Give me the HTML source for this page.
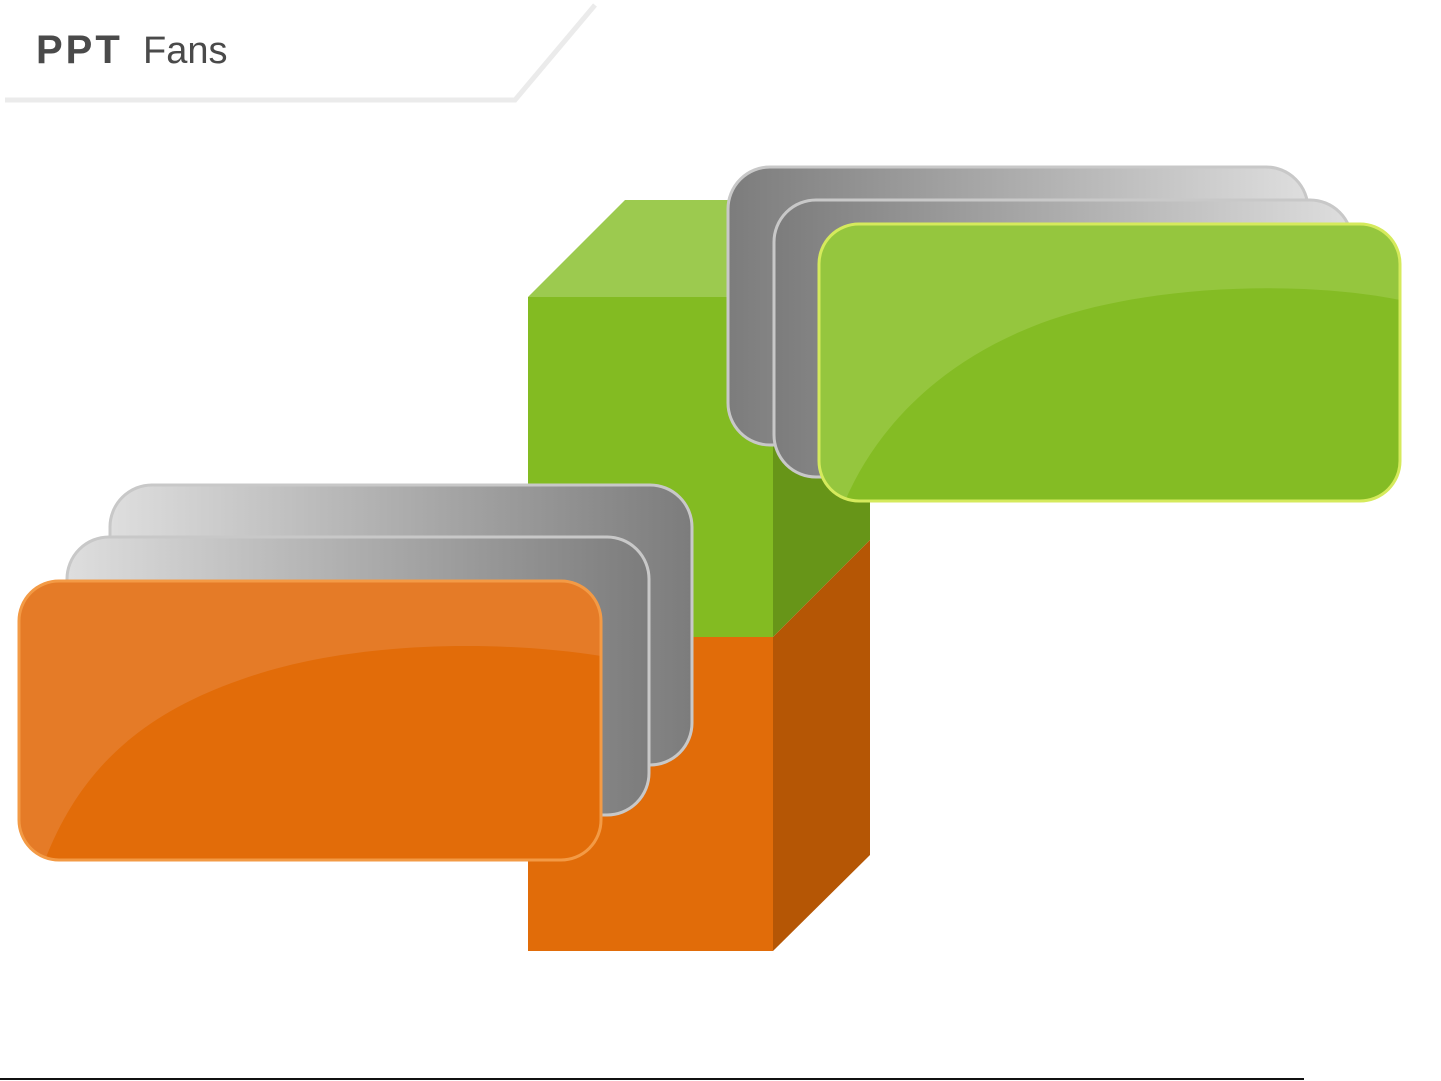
<!DOCTYPE html>
<html><head><style>body{margin:0;background:#fff}svg{display:block}</style></head><body>
<svg width="1441" height="1081" viewBox="0 0 1441 1081" xmlns="http://www.w3.org/2000/svg">
<defs>
<linearGradient id="gL" x1="0" x2="1"><stop offset="0" stop-color="#7c7c7c"/><stop offset="1" stop-color="#dedede"/></linearGradient>
<linearGradient id="gR" x1="0" x2="1"><stop offset="0" stop-color="#dedede"/><stop offset="1" stop-color="#7c7c7c"/></linearGradient>
<clipPath id="cg"><rect x="819" y="224" width="581" height="277" rx="40"/></clipPath>
<clipPath id="co"><rect x="19" y="581" width="582" height="279" rx="40"/></clipPath>
</defs>
<polyline points="5,100 515,100 595,5" fill="none" stroke="#ebebeb" stroke-width="5"/>
<text x="36" y="63" font-family="Liberation Sans, sans-serif" font-weight="bold" font-size="40" fill="#4a4a4a" letter-spacing="3">PPT</text>
<text x="143" y="63" font-family="Liberation Sans, sans-serif" font-size="38" fill="#4a4a4a">Fans</text>
<line x1="0" y1="1079" x2="1304" y2="1079" stroke="#111" stroke-width="2"/>
<polygon points="528,297 625,200 900,200 773,297" fill="#9cca4f"/>
<polygon points="773,297 870,200 870,540 773,637" fill="#679518"/>
<rect x="528" y="297" width="245" height="340" fill="#83bb22"/>
<rect x="528" y="637" width="245" height="314" fill="#e16c09"/>
<polygon points="773,637 870,540 870,855 773,951" fill="#b55605"/>
<rect x="728" y="167" width="580" height="278" rx="42" fill="url(#gL)" stroke="#c8c8c8" stroke-width="3"/>
<rect x="774" y="200" width="578" height="277" rx="42" fill="url(#gL)" stroke="#c8c8c8" stroke-width="3"/>
<g clip-path="url(#cg)">
<rect x="819" y="224" width="581" height="277" fill="#84bc24"/>
<path d="M819,224 H1400 V300 C1300,280 1150,285 1050,320 C950,355 880,420 845,501 H819 Z" fill="#95c63e"/>
</g>
<rect x="819" y="224" width="581" height="277" rx="40" fill="none" stroke="#d5ea5c" stroke-width="3"/>
<rect x="110" y="485" width="582" height="280" rx="42" fill="url(#gR)" stroke="#c8c8c8" stroke-width="3"/>
<rect x="67" y="537" width="582" height="278" rx="42" fill="url(#gR)" stroke="#c8c8c8" stroke-width="3"/>
<g clip-path="url(#co)">
<rect x="19" y="581" width="582" height="279" fill="#e26c09"/>
<path d="M19,581 H601 V656 C500,640 350,640 240,680 C140,715 80,770 45,860 H19 Z" fill="#e57b27"/>
</g>
<rect x="19" y="581" width="582" height="279" rx="40" fill="none" stroke="#f39a45" stroke-width="3"/>
</svg>
</body></html>
